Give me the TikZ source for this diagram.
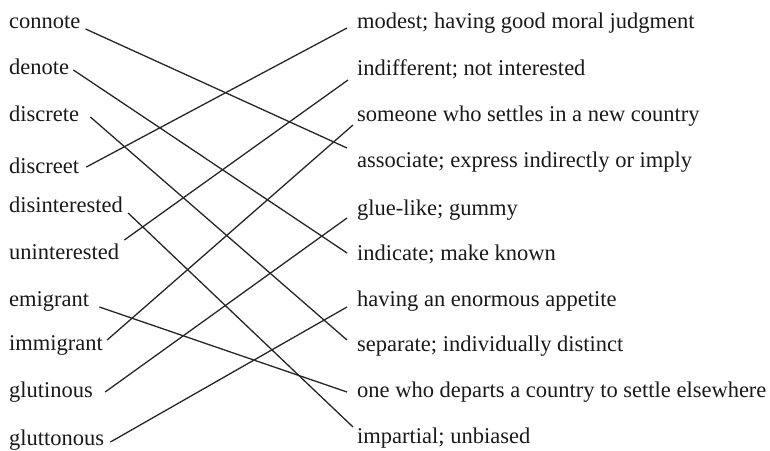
\documentclass[tikz,border=0pt]{standalone}
\usepackage{fontspec}
\setmainfont{Liberation Serif}
\begin{document}
\begin{tikzpicture}[x=1pt, y=-1pt,
  every node/.style={font=\fontsize{22.5}{27}\selectfont, inner sep=0pt, anchor=base west, text=black!90},
  match/.style={line width=1.3pt, black!85}]
  \useasboundingbox (0,0) rectangle (770,450);

  % words
  \node (connote) at (9,28) {connote};
  \node (denote) at (9,74) {denote};
  \node (discrete) at (9,121) {discrete};
  \node (discreet) at (9,173) {discreet};
  \node (disint) at (9,212) {disinterested};
  \node (unint) at (9,259) {uninterested};
  \node (emigrant) at (9,306) {emigrant};
  \node (immigrant) at (9,350) {immigrant};
  \node (glutinous) at (9,397) {glutinous};
  \node (gluttonous) at (9,445) {gluttonous};

  % meanings
  \node (modest) at (357,28) {modest; having good moral judgment};
  \node (indiff) at (357,75) {indifferent; not interested};
  \node (settler) at (357,121) {someone who settles in a new country};
  \node (assoc) at (357,167) {associate; express indirectly or imply};
  \node (gluey) at (357,215) {glue-like; gummy};
  \node (indicate) at (357,260) {indicate; make known};
  \node (appetite) at (357,306) {having an enormous appetite};
  \node (separate) at (357,351) {separate; individually distinct};
  \node (departs) at (357,397) {one who departs a country to settle elsewhere};
  \node (impartial) at (357,443) {impartial; unbiased};

  % matches
  \draw[match] ([xshift=5pt,yshift=-1pt]connote.base east) -- ([xshift=-10pt,yshift=19pt]assoc.base west);
  \draw[match] ([xshift=4pt,yshift=4pt]denote.base east) -- ([xshift=-10pt,yshift=7pt]indicate.base west);
  \draw[match] ([xshift=11pt,yshift=4pt]discrete.base east) -- ([xshift=-10pt,yshift=11pt]separate.base west);
  \draw[match] ([xshift=7pt,yshift=6pt]discreet.base east) -- ([xshift=-10pt,yshift=0pt]modest.base west);
  \draw[match] ([xshift=5pt,yshift=-1pt]disint.base east) -- ([xshift=-4pt,yshift=16pt]impartial.base west);
  \draw[match] ([xshift=5pt,yshift=19pt]unint.base east) -- ([xshift=-9pt,yshift=-5pt]indiff.base west);
  \draw[match] ([xshift=10pt,yshift=-1pt]emigrant.base east) -- ([xshift=-10pt,yshift=5pt]departs.base west);
  \draw[match] ([xshift=4pt,yshift=10pt]immigrant.base east) -- ([xshift=-4pt,yshift=-4pt]settler.base west);
  \draw[match] ([xshift=12pt,yshift=5pt]glutinous.base east) -- ([xshift=-10pt,yshift=-3pt]gluey.base west);
  \draw[match] ([xshift=6pt,yshift=3pt]gluttonous.base east) -- ([xshift=-10pt,yshift=-1pt]appetite.base west);
\end{tikzpicture}
\end{document}
